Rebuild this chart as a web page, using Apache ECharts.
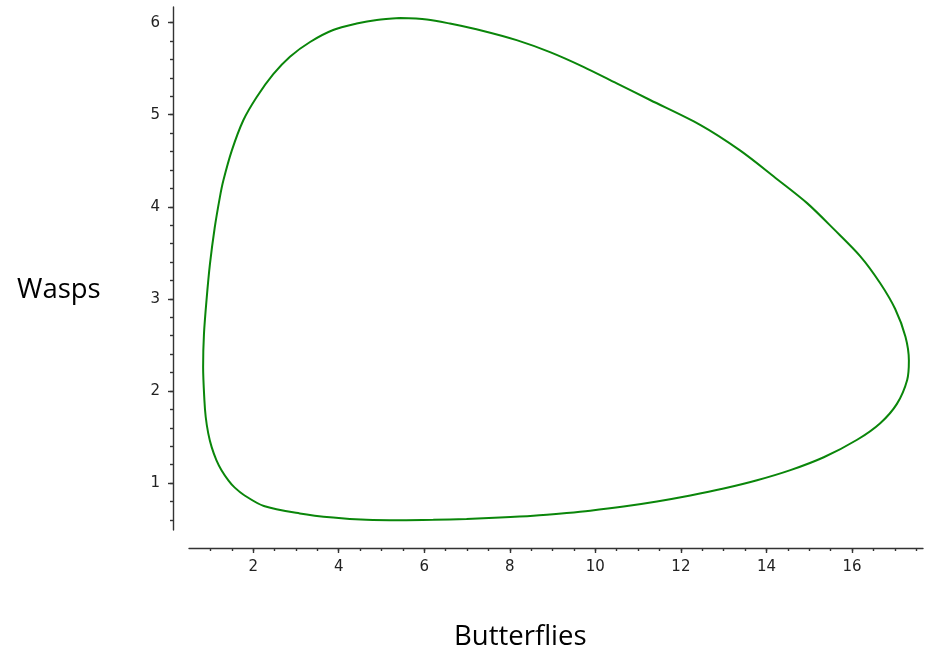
<!DOCTYPE html>
<html>
<head>
<meta charset="utf-8">
<script src="https://cdn.jsdelivr.net/npm/echarts@6/dist/echarts.min.js"></script>
<style>html,body{margin:0;padding:0;background:#fff;}#c{width:930px;height:651px;}</style>
</head>
<body>
<div id="c"></div>
<script>
// Butterflies (x) vs Wasps (y), traced clockwise around the cycle
const butterflies = [5.43, 6.06, 6.60, 7.38, 8.16, 8.94, 9.72, 10.50, 11.28, 12.45, 13.39, 14.25, 14.95, 15.57, 16.20, 16.66, 17.01, 17.25, 17.33, 17.29, 17.05, 16.66, 16.12, 15.34, 14.56, 13.78, 13.00, 12.22, 11.44, 10.66, 9.88, 9.33, 8.55, 7.77, 6.99, 6.21, 5.43, 4.65, 3.87, 3.09, 2.25, 1.80, 1.57, 1.42, 1.26, 1.14, 1.03, 0.95, 0.89, 0.86, 0.83, 0.85, 0.91, 0.99, 1.10, 1.22, 1.30, 1.50, 1.77, 2.08, 2.47, 2.86, 3.33, 3.87, 4.42, 4.89, 5.43];
const wasps = [6.05, 6.035, 5.99, 5.91, 5.81, 5.68, 5.52, 5.34, 5.16, 4.89, 4.61, 4.30, 4.04, 3.76, 3.46, 3.17, 2.89, 2.59, 2.33, 2.12, 1.86, 1.65, 1.47, 1.28, 1.14, 1.03, 0.94, 0.865, 0.80, 0.745, 0.70, 0.675, 0.645, 0.625, 0.61, 0.60, 0.595, 0.60, 0.625, 0.67, 0.75, 0.865, 0.95, 1.03, 1.14, 1.25, 1.39, 1.54, 1.72, 1.90, 2.26, 2.62, 2.99, 3.38, 3.77, 4.10, 4.28, 4.61, 4.94, 5.19, 5.44, 5.63, 5.79, 5.92, 5.99, 6.03, 6.05];
const xTickLabels = [2, 4, 6, 8, 10, 12, 14, 16];
const yTickLabels = [1, 2, 3, 4, 5, 6];
const xTitle = 'Butterflies';
const yTitle = 'Wasps';

function steps(a, b, s) {
  const out = [];
  for (let v = a; v <= b + 1e-9; v += s) out.push(Math.round(v * 100) / 100);
  return out;
}
const xMinor = steps(1, 17.5, 0.5);
const yMinor = steps(0.6, 6.0, 0.2);

const pts = butterflies.map((x, i) => [x, wasps[i]]);

const axisLineStyle = { color: '#333', width: 1.4 };
const labelStyle = { color: '#222', fontFamily: 'DejaVu Sans', fontSize: 15 };
const xRange = { min: 0.5, max: 17.66 };
const yRange = { min: 0.49, max: 6.17 };

const chart = echarts.init(document.getElementById('c'), null, { renderer: 'canvas' });
chart.setOption({
  animation: false,
  backgroundColor: '#fff',
  grid: { left: 189, right: 7, top: 7, bottom: 121, containLabel: false },
  xAxis: [
    {
      type: 'value', position: 'bottom', offset: 18, ...xRange,
      axisLine: { show: true, lineStyle: axisLineStyle },
      axisTick: { show: true, inside: false, length: 5, customValues: xTickLabels, lineStyle: axisLineStyle },
      axisLabel: { show: true, margin: 12, customValues: xTickLabels, ...labelStyle },
      splitLine: { show: false }
    },
    {
      type: 'value', position: 'bottom', offset: 18, ...xRange,
      axisLine: { show: false },
      axisTick: { show: true, inside: false, length: 3, customValues: xMinor, lineStyle: axisLineStyle },
      axisLabel: { show: false },
      splitLine: { show: false }
    }
  ],
  yAxis: [
    {
      type: 'value', position: 'left', offset: 16, ...yRange,
      axisLine: { show: true, lineStyle: axisLineStyle },
      axisTick: { show: true, inside: false, length: 5, customValues: yTickLabels, lineStyle: axisLineStyle },
      axisLabel: { show: true, margin: 13, customValues: yTickLabels, ...labelStyle },
      splitLine: { show: false }
    },
    {
      type: 'value', position: 'left', offset: 16, ...yRange,
      axisLine: { show: false },
      axisTick: { show: true, inside: false, length: 3, customValues: yMinor, lineStyle: axisLineStyle },
      axisLabel: { show: false },
      splitLine: { show: false }
    }
  ],
  series: [{
    type: 'line',
    xAxisIndex: 0, yAxisIndex: 0,
    data: pts,
    showSymbol: false,
    smooth: 0.3,
    lineStyle: { color: '#0a860a', width: 2 },
    z: 5
  }],
  graphic: [
    { type: 'text', left: 17, top: 276, style: { text: yTitle, fontFamily: 'Open Sans', fontSize: 27.5, fill: '#000' } },
    { type: 'text', left: 454, top: 623, style: { text: xTitle, fontFamily: 'Open Sans', fontSize: 27.5, fill: '#000' } }
  ]
});
</script>
</body>
</html>
